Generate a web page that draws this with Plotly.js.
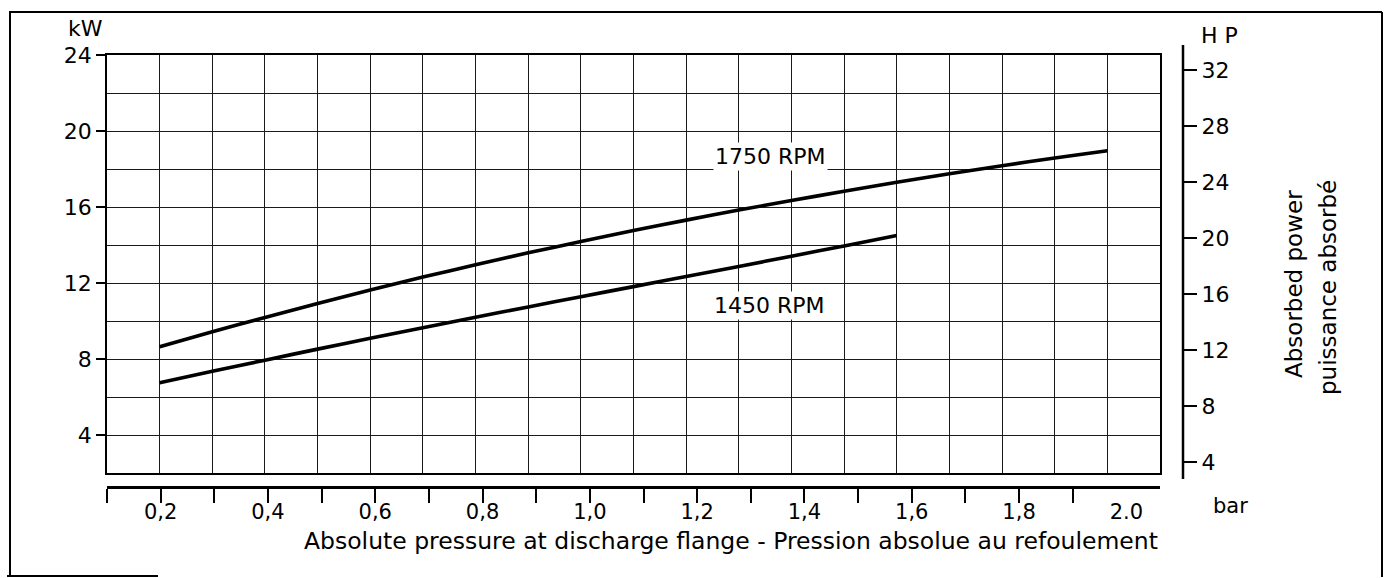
<!DOCTYPE html>
<html>
<head>
<meta charset="utf-8">
<script src="https://cdn.plot.ly/plotly-3.0.1.min.js"></script>
<style>html,body{margin:0;padding:0;background:#fff;}</style>
</head>
<body>
<div id="chart" style="width:1394px;height:578px;"></div>
<script>
// ---- data ----
const pressure1750 = [0.2,0.3,0.4,0.5,0.6,0.7,0.8,0.9,1.0,1.1,1.2,1.3,1.4,1.5,1.6,1.7,1.8,1.9,2.0];
const power1750    = [8.65,9.43,10.19,10.92,11.63,12.31,12.96,13.59,14.18,14.76,15.31,15.84,16.34,16.83,17.30,17.75,18.17,18.58,18.96];
const pressure1450 = [0.2,0.3,0.4,0.5,0.6,0.7,0.8,0.9,1.0,1.1,1.2,1.3,1.4,1.5,1.6];
const power1450    = [6.75,7.35,7.94,8.52,9.09,9.65,10.20,10.74,11.28,11.81,12.34,12.87,13.41,13.95,14.50];
const seriesNames  = ['1750 RPM','1450 RPM'];
const pressureTickVals = [0.1,0.2,0.3,0.4,0.5,0.6,0.7,0.8,0.9,1.0,1.1,1.2,1.3,1.4,1.5,1.6,1.7,1.8,1.9];
const pressureLabelVals = [0.2,0.4,0.6,0.8,1.0,1.2,1.4,1.6,1.8,2.0];
const pressureLabels = ['0,2','0,4','0,6','0,8','1,0','1,2','1,4','1,6','1,8','2.0'];
const kwTicks = [4,8,12,16,20,24];
const hpTicks = [4,8,12,16,20,24,28,32];
const xTitle = 'Absolute pressure at discharge flange - Pression absolue au refoulement';
const yTitleLines = ['Absorbed power','puissance absorbé'];

// ---- layout helpers (pixel -> paper) ----
const W = 1394, H = 578;
const px = x => x / W;
const py = y => 1 - y / H;
const FONT = 'DejaVu Sans';

const traces = [
  {x: pressure1750, y: power1750, name: seriesNames[0], mode: 'lines', xaxis: 'x', yaxis: 'y',
   line: {color: '#000', width: 3.6, shape: 'spline', smoothing: 0.8}, hoverinfo: 'x+y+name'},
  {x: pressure1450, y: power1450, name: seriesNames[1], mode: 'lines', xaxis: 'x', yaxis: 'y',
   line: {color: '#000', width: 3.6, shape: 'spline', smoothing: 0.8}, hoverinfo: 'x+y+name'},
  {x: [], y: [], xaxis: 'x2', yaxis: 'y', showlegend: false, hoverinfo: 'skip'},
  {x: [], y: [], xaxis: 'x3', yaxis: 'y', showlegend: false, hoverinfo: 'skip'},
  {x: [], y: [], xaxis: 'x', yaxis: 'y2', showlegend: false, hoverinfo: 'skip'}
];

const gridColor = '#1a1a1a';
const xDomain = [px(107), px(1160)];

function note(x, y, text, size, extra) {
  return Object.assign({xref: 'paper', yref: 'paper', x: px(x), y: py(y), text: text, showarrow: false,
    xanchor: 'center', yanchor: 'middle', font: {family: FONT, size: size, color: '#000'}}, extra || {});
}

const layout = {
  width: W, height: H,
  margin: {l: 0, r: 0, t: 0, b: 0, pad: 0},
  paper_bgcolor: '#fff', plot_bgcolor: '#fff',
  showlegend: false,
  font: {family: FONT, size: 22, color: '#000'},
  xaxis: {
    domain: xDomain, range: [0.1, 2.1], tick0: 0.1, dtick: 0.1,
    showticklabels: false, ticks: '', showgrid: true, gridcolor: gridColor, gridwidth: 1,
    showline: true, mirror: true, linecolor: '#000', linewidth: 1.5, zeroline: false, fixedrange: true
  },
  xaxis2: {
    overlaying: 'x', anchor: 'free', position: py(487), domain: xDomain,
    range: [0.1, 0.1 + (1160 - 107) / 536.5],
    tickmode: 'array', tickvals: pressureTickVals, ticktext: pressureTickVals.map(() => ''),
    ticks: 'outside', ticklen: 14, tickwidth: 2, tickcolor: '#000',
    showgrid: false, zeroline: false, showline: true, linecolor: '#000', linewidth: 3, fixedrange: true
  },
  xaxis3: {
    overlaying: 'x', anchor: 'free', position: py(487), domain: xDomain,
    range: [0.1, 0.1 + (1160 - 107) / 536.5],
    tickmode: 'array', tickvals: pressureLabelVals, ticktext: pressureLabels,
    ticks: 'outside', ticklen: 6, tickcolor: 'rgba(0,0,0,0)',
    tickfont: {family: FONT, size: 21, color: '#000'},
    showgrid: false, zeroline: false, showline: false, fixedrange: true
  },
  yaxis: {
    domain: [py(473), py(55)], range: [2, 24],
    tickmode: 'array', tickvals: kwTicks,
    ticks: 'outside', ticklen: 9, tickwidth: 1.5, tickcolor: '#000',
    tickfont: {family: FONT, size: 22, color: '#000'},
    showgrid: true, gridcolor: gridColor, gridwidth: 1,
    minor: {tick0: 0, dtick: 2, showgrid: true, gridcolor: gridColor, gridwidth: 1, ticks: ''},
    showline: true, mirror: true, linecolor: '#000', linewidth: 1.5, zeroline: false, fixedrange: true
  },
  yaxis2: {
    overlaying: 'y', anchor: 'free', position: px(1183), side: 'right',
    range: [4 - (473 - 462) / 14, 32 + (70 - 55) / 14],
    tickmode: 'array', tickvals: hpTicks,
    ticks: 'outside', ticklen: 13, tickwidth: 2, tickcolor: '#000',
    tickfont: {family: FONT, size: 22, color: '#000'},
    showgrid: false, zeroline: false, showline: false, fixedrange: true
  },
  shapes: [
    {type: 'line', xref: 'paper', yref: 'paper', x0: px(1183), x1: px(1183), y0: py(45), y1: py(479),
     line: {color: '#000', width: 2.5}},
    {type: 'line', xref: 'paper', yref: 'paper', x0: px(10), x1: px(10), y0: py(11), y1: py(577), line: {color: '#000', width: 2}},
    {type: 'line', xref: 'paper', yref: 'paper', x0: px(10), x1: px(1382), y0: py(12), y1: py(12), line: {color: '#000', width: 2}},
    {type: 'line', xref: 'paper', yref: 'paper', x0: px(1382), x1: px(1382), y0: py(12), y1: py(577), line: {color: '#000', width: 2}},
    {type: 'line', xref: 'paper', yref: 'paper', x0: px(7), x1: px(158), y0: py(576), y1: py(576), line: {color: '#000', width: 2}}
  ],
  annotations: [
    {xref: 'x', yref: 'y', x: 1.361, y: 18.68, text: seriesNames[0], showarrow: false, xanchor: 'center', yanchor: 'middle',
     font: {family: FONT, size: 22, color: '#000'}, bgcolor: '#fff'},
    {xref: 'x', yref: 'y', x: 1.359, y: 10.79, text: seriesNames[1], showarrow: false, xanchor: 'center', yanchor: 'middle',
     font: {family: FONT, size: 22, color: '#000'}, bgcolor: '#fff'},
    note(85, 29, 'kW', 22),
    note(1219, 35, 'H P', 22),
    note(1230, 506, 'bar', 21),
    note(731, 541, xTitle, 23.5),
    note(1294, 284, yTitleLines[0], 23, {textangle: -90}),
    note(1328, 288, yTitleLines[1], 23, {textangle: -90})
  ]
};

Plotly.newPlot('chart', traces, layout, {displayModeBar: false, responsive: false});
</script>
</body>
</html>
